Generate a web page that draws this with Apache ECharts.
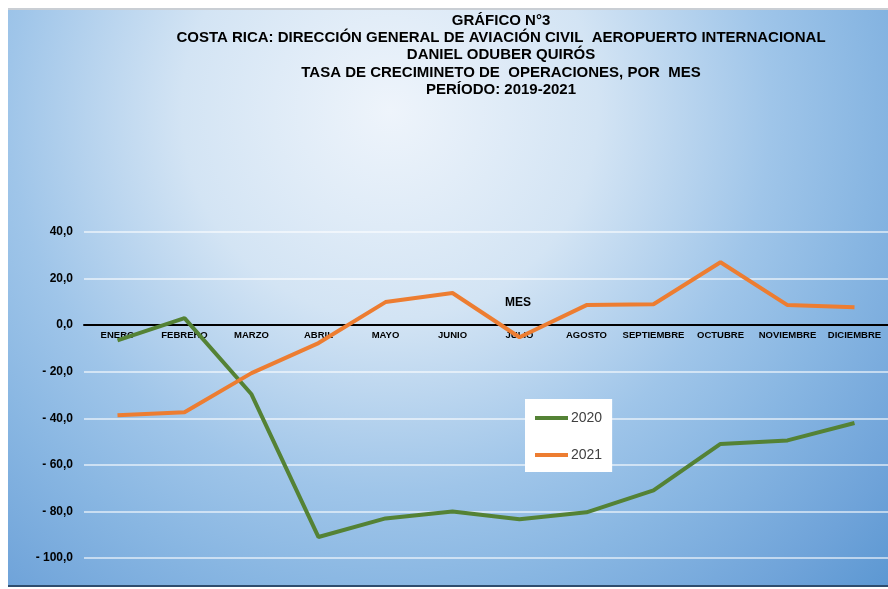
<!DOCTYPE html>
<html>
<head>
<meta charset="utf-8">
<script src="https://cdn.jsdelivr.net/npm/echarts@6/dist/echarts.min.js"></script>
<style>
  html, body { margin: 0; padding: 0; background: #fff; }
  #chart { width: 888px; height: 589px; }
</style>
</head>
<body>
<div id="chart"></div>
<script>
var meses = ["ENERO", "FEBRERO", "MARZO", "ABRIL", "MAYO", "JUNIO", "JULIO", "AGOSTO", "SEPTIEMBRE", "OCTUBRE", "NOVIEMBRE", "DICIEMBRE"];
var tasa2020 = [-6.5, 3.0, -29.7, -91.0, -83.0, -80.0, -83.4, -80.4, -71.0, -51.0, -49.5, -42.0];
var tasa2021 = [-38.7, -37.4, -20.6, -7.7, 9.9, 13.8, -5.2, 8.6, 9.0, 27.0, 8.6, 7.7];
var titulo = [
  "GRÁFICO N°3",
  "COSTA RICA: DIRECCIÓN GENERAL DE AVIACIÓN CIVIL  AEROPUERTO INTERNACIONAL",
  "DANIEL ODUBER QUIRÓS",
  "TASA DE CRECIMINETO DE  OPERACIONES, POR  MES",
  "PERÍODO: 2019-2021"
];

var myChart = echarts.init(document.getElementById("chart"));

function fmtY(v) {
  var s = Math.abs(v).toFixed(1).replace(".", ",");
  return v < 0 ? "- " + s : s;
}

// the category axis sits on the zero line, not at the bottom of the grid
var gridTop = 232, gridBottom = 31, yMin = -100, yMax = 40;
var plotH = 589 - gridTop - gridBottom;
var zeroOffset = -plotH * (0 - yMin) / (yMax - yMin);

var option = {
  animation: false,
  textStyle: { fontFamily: "Liberation Sans, Arial, sans-serif" },
  graphic: [
    {
      type: "rect",
      z: -10,
      shape: { x: 8, y: 9, width: 880, height: 578 },
      style: {
        fill: new echarts.graphic.RadialGradient(0.434, 0.175, 1.2, [
          { offset: 0, color: "#eef4fb" },
          { offset: 0.3, color: "#d3e4f4" },
          { offset: 0.55, color: "#9fc5e9" },
          { offset: 0.7, color: "#88b6e2" },
          { offset: 0.88, color: "#6fa3d9" },
          { offset: 1, color: "#5b97d2" }
        ])
      }
    },
    {
      type: "rect",
      z: -9,
      shape: { x: 8, y: 8, width: 880, height: 2 },
      style: { fill: "#c9ced4" }
    },
    {
      type: "rect",
      z: -9,
      shape: { x: 8, y: 585, width: 880, height: 2 },
      style: { fill: "#2f4d6e" }
    },
    {
      type: "text",
      left: 505,
      top: 297,
      style: { text: "MES", font: "bold 12px Liberation Sans, Arial, sans-serif", fill: "#000" }
    }
  ],
  title: {
    text: titulo.join("\n"),
    left: 501,
    textAlign: "center",
    top: 12,
    padding: 0,
    textStyle: {
      fontSize: 15,
      fontWeight: "bold",
      color: "#000",
      lineHeight: 17.3,
      fontFamily: "Liberation Sans, Arial, sans-serif"
    }
  },
  legend: {
    orient: "vertical",
    left: 525,
    top: 399,
    backgroundColor: "#ffffff",
    padding: [12, 10, 10, 10],
    itemGap: 23,
    itemWidth: 33,
    itemHeight: 4,
    textStyle: { color: "#404040", fontSize: 14, padding: [0, 0, 0, -2] },
    data: [
      { name: "2020", icon: "rect" },
      { name: "2021", icon: "rect" }
    ]
  },
  grid: {
    left: 84,
    right: -8,
    top: gridTop,
    bottom: gridBottom
  },
  xAxis: {
    type: "category",
    data: meses,
    offset: zeroOffset,
    z: 3,
    axisLine: { onZero: false, lineStyle: { color: "#000", width: 2 } },
    axisTick: { show: false },
    axisLabel: {
      interval: 0,
      margin: 5,
      color: "#000",
      fontWeight: "bold",
      fontSize: 9.5
    }
  },
  yAxis: {
    type: "value",
    min: yMin,
    max: yMax,
    interval: 20,
    axisLine: { show: false },
    axisTick: { show: false },
    axisLabel: {
      margin: 11,
      color: "#000",
      fontWeight: "bold",
      fontSize: 12,
      formatter: fmtY
    },
    splitLine: { lineStyle: { color: "rgba(255,255,255,0.75)", width: 1.5 } }
  },
  series: [
    {
      name: "2020",
      type: "line",
      data: tasa2020,
      symbol: "none",
      itemStyle: { color: "#548235" },
      lineStyle: { color: "#548235", width: 4 }
    },
    {
      name: "2021",
      type: "line",
      data: tasa2021,
      symbol: "none",
      itemStyle: { color: "#ed7d31" },
      lineStyle: { color: "#ed7d31", width: 4 }
    }
  ]
};
myChart.setOption(option);
</script>
</body>
</html>
